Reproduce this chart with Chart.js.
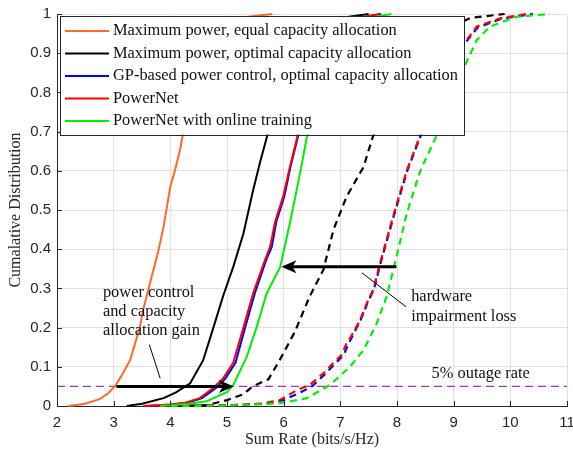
<!DOCTYPE html>
<html>
<head>
<meta charset="utf-8">
<script src="https://cdn.jsdelivr.net/npm/chart.js@4.4.0/dist/chart.umd.min.js"></script>
<style>
  html, body { margin: 0; padding: 0; background: #fff; }
  #wrap { width: 573px; height: 458px; }
</style>
</head>
<body>
<div id="wrap"><canvas id="cdf" width="573" height="458"></canvas></div>
<script>
// Axis ticks
const xTicks = [2, 3, 4, 5, 6, 7, 8, 9, 10, 11];
const yTicks = [0, 0.1, 0.2, 0.3, 0.4, 0.5, 0.6, 0.7, 0.8, 0.9, 1];

// Legend entries (solid curves only)
const seriesNames = [
    'Maximum power, equal capacity allocation',
    'Maximum power, optimal capacity allocation',
    'GP-based power control, optimal capacity allocation',
    'PowerNet',
    'PowerNet with online training'
];
const seriesColors = ['#ff6a2a', '#000000', '#0000ff', '#ff0000', '#00ee00'];

// Solid curves (ideal hardware)
const equalX = [2.2, 2.5, 2.76, 2.9, 3.03, 3.15, 3.29, 3.40, 3.46, 3.52, 3.60, 3.67, 3.78, 3.88, 4.0, 4.08, 4.17, 4.23, 4.4, 4.6, 4.85, 5.2, 5.8];
const equalY = [0, 0.006, 0.018, 0.032, 0.052, 0.08, 0.117, 0.17, 0.20, 0.245, 0.29, 0.33, 0.39, 0.457, 0.56, 0.60, 0.653, 0.70, 0.80, 0.90, 0.95, 0.99, 1.0];

const maxOptX = [3.23, 3.5, 3.88, 4.1, 4.35, 4.58, 4.76, 4.93, 5.11, 5.29, 5.46, 5.58, 5.73, 5.95, 6.25, 6.5, 7.0, 7.5];
const maxOptY = [0, 0.006, 0.02, 0.035, 0.058, 0.117, 0.20, 0.28, 0.355, 0.44, 0.55, 0.62, 0.70, 0.80, 0.90, 0.95, 0.99, 1.0];

const gpX = [3.6, 4.05, 4.3, 4.56, 4.8, 4.97, 5.15, 5.32, 5.49, 5.69, 5.79, 5.87, 6.01, 6.12, 6.24, 6.41, 6.66, 6.92, 7.32, 7.72];
const gpY = [0, 0.004, 0.008, 0.02, 0.045, 0.07, 0.11, 0.20, 0.287, 0.372, 0.406, 0.47, 0.534, 0.61, 0.68, 0.80, 0.90, 0.95, 0.99, 1.0];

const pnX = [3.52, 4.0, 4.25, 4.52, 4.75, 4.93, 5.11, 5.29, 5.46, 5.67, 5.76, 5.85, 5.99, 6.11, 6.23, 6.4, 6.65, 6.9, 7.3, 7.7];
const pnY = [0, 0.004, 0.008, 0.02, 0.045, 0.07, 0.11, 0.20, 0.287, 0.372, 0.406, 0.47, 0.534, 0.61, 0.68, 0.80, 0.90, 0.95, 0.99, 1.0];

const onlineX = [3.82, 4.29, 4.64, 4.82, 5.0, 5.11, 5.35, 5.52, 5.70, 5.94, 6.11, 6.29, 6.41, 6.44, 6.6, 6.9, 7.15, 7.5, 7.9];
const onlineY = [0, 0.005, 0.012, 0.024, 0.035, 0.054, 0.126, 0.20, 0.287, 0.355, 0.466, 0.594, 0.687, 0.70, 0.80, 0.90, 0.95, 0.99, 1.0];

// Dashed curves (hardware impairment)
const maxOptHwX = [3.9, 4.64, 5.0, 5.29, 5.45, 5.73, 5.93, 6.2, 6.46, 6.70, 6.88, 7.11, 7.41, 7.58, 7.9, 8.3, 8.7, 9.3, 9.9];
const maxOptHwY = [0, 0.002, 0.015, 0.03, 0.05, 0.068, 0.117, 0.19, 0.28, 0.347, 0.45, 0.534, 0.61, 0.69, 0.80, 0.90, 0.95, 0.99, 1.0];

const gpHwX = [3.9, 5.1, 5.7, 6.0, 6.3, 6.5, 6.72, 6.92, 7.06, 7.13, 7.22, 7.36, 7.5, 7.59, 7.71, 7.94, 8.18, 8.42, 8.71, 9.06, 9.17, 9.42, 9.84, 10.4];
const gpHwY = [0, 0.002, 0.006, 0.015, 0.035, 0.05, 0.08, 0.11, 0.13, 0.155, 0.18, 0.22, 0.27, 0.296, 0.364, 0.483, 0.60, 0.69, 0.80, 0.90, 0.92, 0.965, 0.988, 1.0];

const pnHwX = [3.8, 5.0, 5.6, 5.93, 6.23, 6.46, 6.70, 6.90, 7.02, 7.11, 7.20, 7.35, 7.49, 7.58, 7.70, 7.93, 8.17, 8.41, 8.7, 9.05, 9.16, 9.41, 9.82, 10.29];
const pnHwY = [0, 0.002, 0.006, 0.015, 0.04, 0.054, 0.083, 0.113, 0.13, 0.16, 0.18, 0.22, 0.27, 0.296, 0.364, 0.483, 0.60, 0.69, 0.80, 0.90, 0.92, 0.968, 0.989, 1.0];

const onlineHwX = [4.0, 5.0, 5.93, 6.41, 6.82, 7.17, 7.41, 7.64, 7.82, 7.99, 8.17, 8.41, 8.70, 8.9, 9.16, 9.41, 9.64, 10.11, 10.7];
const onlineHwY = [0, 0.001, 0.007, 0.02, 0.054, 0.10, 0.143, 0.21, 0.28, 0.38, 0.49, 0.60, 0.69, 0.76, 0.857, 0.934, 0.968, 0.993, 1.0];

// 5% outage reference
const outageLevel = 0.05;

// Annotations (data units)
const gainArrow = { from: [3.05, 0.05], to: [5.12, 0.05] };
const gainLeader = { from: [3.63, 0.156], to: [3.82, 0.071] };
const gainText = ['power control', 'and capacity', 'allocation gain'];
const gainTextPos = [2.81, 0.289];
const lossArrow = { from: [7.99, 0.355], to: [5.96, 0.355] };
const lossLeader = { from: [7.38, 0.34], to: [8.16, 0.253] };
const lossText = ['hardware', 'impairment loss'];
const lossTextPos = [8.25, 0.279];
const outageText = '5% outage rate';
const outageTextPos = [8.61, 0.082];

function pts(xs, ys) {
    return xs.map((x, i) => ({ x: x, y: ys[i] }));
}

function solid(label, xs, ys, color, order) {
    return { label, data: pts(xs, ys), borderColor: color, borderWidth: 2, pointRadius: 0, tension: 0, fill: false, clip: 4, order };
}

function dashed(label, xs, ys, color, order, offset) {
    return { label, data: pts(xs, ys), borderColor: color, borderWidth: 2.2, borderDash: [7, 5], borderDashOffset: offset || 0, pointRadius: 0, tension: 0, fill: false, clip: 4, order };
}

const SERIF = '"Liberation Serif", "Times New Roman", serif';
const SANS = '"Liberation Sans", Arial, sans-serif';

function drawArrow(ctx, x1, y1, x2, y2) {
    const ang = Math.atan2(y2 - y1, x2 - x1);
    const len = 15, half = 6.5, notch = 4;
    ctx.save();
    ctx.strokeStyle = '#000';
    ctx.fillStyle = '#000';
    ctx.lineWidth = 3;
    ctx.beginPath();
    ctx.moveTo(x1, y1);
    ctx.lineTo(x2 - Math.cos(ang) * 6, y2 - Math.sin(ang) * 6);
    ctx.stroke();
    ctx.translate(x2, y2);
    ctx.rotate(ang);
    ctx.beginPath();
    ctx.moveTo(0, 0);
    ctx.lineTo(-len, -half);
    ctx.lineTo(-len + notch, 0);
    ctx.lineTo(-len, half);
    ctx.closePath();
    ctx.fill();
    ctx.restore();
}

// Extras: inward ticks, legend, annotations
const extras = {
    id: 'extras',
    afterDatasetsDraw(chart) {
        const ctx = chart.ctx;
        const xs = chart.scales.x, ys = chart.scales.y;
        const area = chart.chartArea;
        const px = v => xs.getPixelForValue(v);
        const py = v => ys.getPixelForValue(v);

        // inward ticks
        ctx.save();
        ctx.strokeStyle = '#262626';
        ctx.lineWidth = 1;
        ctx.beginPath();
        xTicks.forEach(t => {
            const x = Math.round(px(t)) + 0.5;
            ctx.moveTo(x, area.bottom);
            ctx.lineTo(x, area.bottom - 5);
        });
        yTicks.forEach(t => {
            const y = Math.round(py(t)) + 0.5;
            ctx.moveTo(area.left, y);
            ctx.lineTo(area.left + 5, y);
        });
        ctx.stroke();
        ctx.restore();

        // arrows and leaders
        drawArrow(ctx, px(gainArrow.from[0]), py(gainArrow.from[1]), px(gainArrow.to[0]), py(gainArrow.to[1]));
        drawArrow(ctx, px(lossArrow.from[0]), py(lossArrow.from[1]), px(lossArrow.to[0]), py(lossArrow.to[1]));
        ctx.save();
        ctx.strokeStyle = '#000';
        ctx.lineWidth = 1;
        ctx.beginPath();
        ctx.moveTo(px(gainLeader.from[0]), py(gainLeader.from[1]));
        ctx.lineTo(px(gainLeader.to[0]), py(gainLeader.to[1]));
        ctx.moveTo(px(lossLeader.from[0]), py(lossLeader.from[1]));
        ctx.lineTo(px(lossLeader.to[0]), py(lossLeader.to[1]));
        ctx.stroke();

        // annotation text
        ctx.fillStyle = '#111';
        ctx.font = '16.4px ' + SERIF;
        ctx.textBaseline = 'middle';
        ctx.textAlign = 'left';
        gainText.forEach((s, i) => ctx.fillText(s, px(gainTextPos[0]), py(gainTextPos[1]) + i * 19));
        lossText.forEach((s, i) => ctx.fillText(s, px(lossTextPos[0]), py(lossTextPos[1]) + i * 20));
        ctx.fillText(outageText, px(outageTextPos[0]), py(outageTextPos[1]));

        // legend
        const boxL = area.left + 3, boxT = area.top + 2;
        const rowH = 22.5;
        const textX = boxL + 53;
        const maxW = Math.max(...seriesNames.map(s => ctx.measureText(s).width));
        const boxW = textX - boxL + maxW + 6;
        const boxH = rowH * seriesNames.length + 6;
        ctx.fillStyle = '#fff';
        ctx.fillRect(boxL, boxT, boxW, boxH);
        ctx.strokeStyle = '#262626';
        ctx.lineWidth = 1;
        ctx.strokeRect(Math.round(boxL) + 0.5, Math.round(boxT) + 0.5, Math.round(boxW), Math.round(boxH));
        seriesNames.forEach((s, i) => {
            const y = boxT + 15 + i * rowH;
            ctx.strokeStyle = seriesColors[i];
            ctx.lineWidth = 2;
            ctx.beginPath();
            ctx.moveTo(boxL + 5, y);
            ctx.lineTo(boxL + 49, y);
            ctx.stroke();
            ctx.fillStyle = '#111';
            ctx.fillText(s, textX, y);
        });
        ctx.restore();
    }
};

new Chart(document.getElementById('cdf'), {
    type: 'line',
    data: {
        datasets: [
            solid(seriesNames[0], equalX, equalY, seriesColors[0], 5),
            solid(seriesNames[1], maxOptX, maxOptY, seriesColors[1], 4),
            solid(seriesNames[2], gpX, gpY, seriesColors[2], 3),
            solid(seriesNames[3], pnX, pnY, seriesColors[3], 2),
            solid(seriesNames[4], onlineX, onlineY, seriesColors[4], 1),
            dashed('hw1', maxOptHwX, maxOptHwY, seriesColors[1], 9),
            dashed('hw2', gpHwX, gpHwY, seriesColors[2], 8, 6),
            dashed('hw3', pnHwX, pnHwY, seriesColors[3], 7),
            dashed('hw4', onlineHwX, onlineHwY, seriesColors[4], 6),
            {
                label: 'outage',
                data: [{ x: xTicks[0], y: outageLevel }, { x: xTicks[xTicks.length - 1], y: outageLevel }],
                borderColor: '#9b3bb5', borderWidth: 1.2, borderDash: [8, 5], pointRadius: 0, fill: false, order: 10
            }
        ]
    },
    options: {
        responsive: false,
        animation: false,
        devicePixelRatio: 1,
        layout: { padding: { top: 14, right: 6, left: 6, bottom: 5 } },
        plugins: { legend: { display: false }, tooltip: { enabled: false } },
        scales: {
            x: {
                type: 'linear',
                min: 2, max: 11,
                afterBuildTicks: s => { s.ticks = xTicks.map(v => ({ value: v })); },
                afterFit: s => { s.height = 47; s.paddingRight = 0; s.paddingLeft = 0; },
                grid: { color: '#e2e2e2', drawTicks: false },
                border: { color: '#262626' },
                ticks: { color: '#262626', font: { family: SANS, size: 15 }, padding: 8, maxRotation: 0, autoSkip: false },
                title: { display: true, text: 'Sum Rate (bits/s/Hz)', color: '#262626', font: { family: SERIF, size: 16 }, padding: { top: 0 } }
            },
            y: {
                min: 0, max: 1,
                afterBuildTicks: s => { s.ticks = yTicks.map(v => ({ value: v })); },
                afterFit: s => { s.width = 51; s.paddingTop = 0; s.paddingBottom = 0; },
                grid: { color: '#e2e2e2', drawTicks: false },
                border: { color: '#262626' },
                ticks: {
                    color: '#262626', font: { family: SANS, size: 15 }, padding: 6, autoSkip: false,
                    callback: v => (v === 0 || v === 1) ? String(v) : v.toFixed(1)
                },
                title: { display: true, text: 'Cumalative Distribution', color: '#262626', font: { family: SERIF, size: 16 }, padding: 0 }
            }
        }
    },
    plugins: [extras]
});
</script>
</body>
</html>
